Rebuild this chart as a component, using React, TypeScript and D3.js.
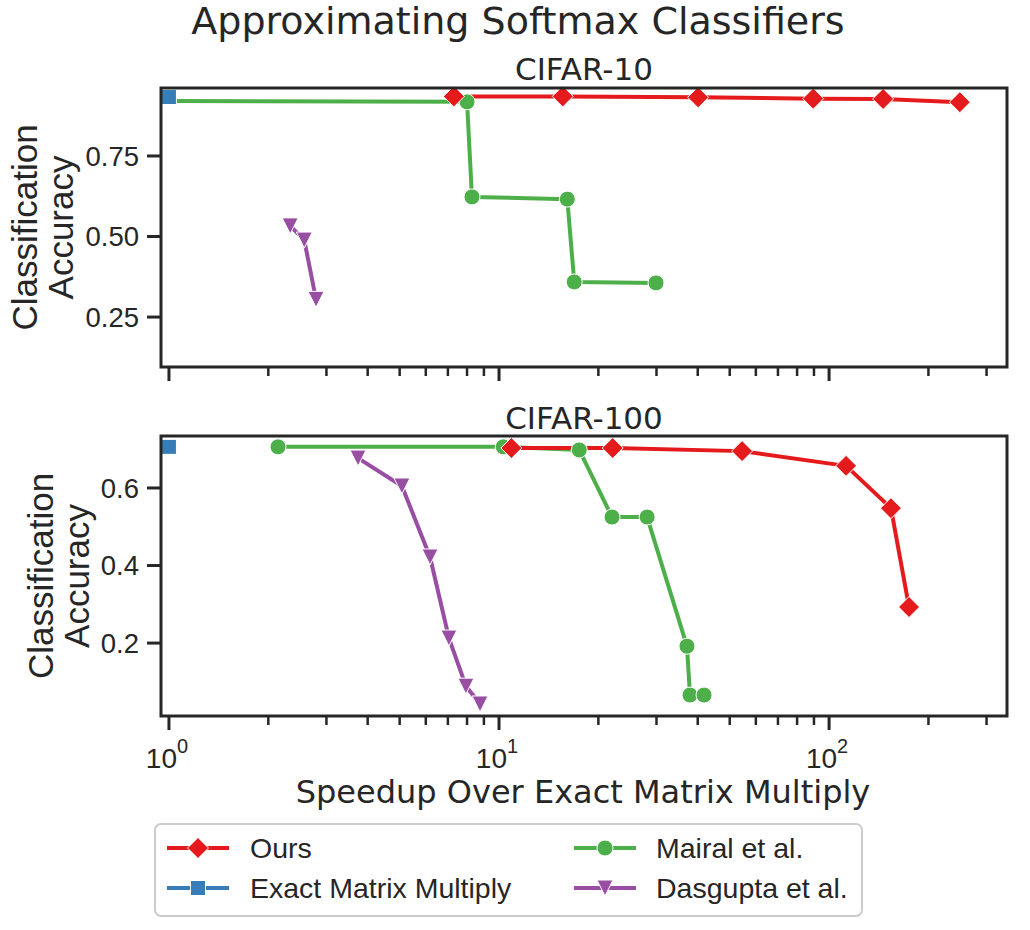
import React from "react";
import * as d3 from "d3";

// ---- data ----
const cifar10Ours_x = [7.3, 15.6, 40.1, 89.5, 145.8, 249];
const cifar10Ours_y = [0.935, 0.935, 0.932, 0.928, 0.927, 0.917];
const cifar10Exact_x = [1];
const cifar10Exact_y = [0.933];
const cifar10Mairal_x = [1, 8.0, 8.28, 16.1, 16.9, 29.9];
const cifar10Mairal_y = [0.921, 0.918, 0.623, 0.616, 0.359, 0.356];
const cifar10Dasgupta_x = [2.33, 2.57, 2.79];
const cifar10Dasgupta_y = [0.533, 0.489, 0.305];

const cifar100Ours_x = [10.9, 22.1, 54.5, 112.6, 154, 174.7];
const cifar100Ours_y = [0.703, 0.703, 0.695, 0.657, 0.548, 0.293];
const cifar100Exact_x = [1];
const cifar100Exact_y = [0.706];
const cifar100Mairal_x = [2.14, 10.3, 17.5, 22.0, 28.1, 37.1, 37.9, 41.8];
const cifar100Mairal_y = [0.706, 0.706, 0.698, 0.525, 0.525, 0.192, 0.066, 0.066];
const cifar100Dasgupta_x = [3.74, 5.08, 6.18, 7.05, 7.94, 8.76];
const cifar100Dasgupta_y = [0.677, 0.605, 0.422, 0.213, 0.089, 0.043];

const topYTicks = [0.25, 0.5, 0.75];
const topYTickLabels = ["0.25", "0.50", "0.75"];
const botYTicks = [0.2, 0.4, 0.6];
const botYTickLabels = ["0.2", "0.4", "0.6"];
const xMajorTicks = [1, 10, 100];
const xMajorExp = ["0", "1", "2"];
const xMinorTicks = [2, 3, 4, 5, 6, 7, 8, 9, 20, 30, 40, 50, 60, 70, 80, 90, 200, 300];

const seriesNames = ["Ours", "Exact Matrix Multiply", "Mairal et al.", "Dasgupta et al."];
const seriesColors = ["#e41a1c", "#377eb8", "#4daf4a", "#984ea3"];
const seriesMarkers = ["diamond", "square", "circle", "tri"];

const mainTitle = "Approximating Softmax Classifiers";
const panelTitles = ["CIFAR-10", "CIFAR-100"];
const xLabel = "Speedup Over Exact Matrix Multiply";
const yLabelLines = ["Classification", "Accuracy"];

const SANS = "'Liberation Sans', Arial, sans-serif";
const DEJA = "'DejaVu Sans', sans-serif";
const AX = "#262626";

function Marker({ kind, cx, cy, color }: { kind: string; cx: number; cy: number; color: string }) {
  const st = { fill: color, stroke: "#ffffff", strokeWidth: 1 };
  if (kind === "diamond") {
    const r = 10.5;
    return <path d={`M${cx},${cy - r}L${cx + r},${cy}L${cx},${cy + r}L${cx - r},${cy}Z`} {...st} />;
  }
  if (kind === "square") {
    const h = 7.5;
    return <rect x={cx - h} y={cy - h} width={2 * h} height={2 * h} {...st} />;
  }
  if (kind === "circle") {
    return <circle cx={cx} cy={cy} r={8} {...st} />;
  }
  const w = 8, hh = 8;
  return <path d={`M${cx - w},${cy - hh}L${cx + w},${cy - hh}L${cx},${cy + hh}Z`} {...st} />;
}

export default function App() {
  const left = 161, right = 1007;
  const x = d3.scaleLog().domain([0.946, 346]).range([left, right]);
  const panels = [
    {
      top: 88, bottom: 367, domain: [0.095, 0.961], ticks: topYTicks, labels: topYTickLabels,
      title: panelTitles[0], titleY: 80, ylabX: [37, 73],
      series: [
        [cifar10Ours_x, cifar10Ours_y],
        [cifar10Exact_x, cifar10Exact_y],
        [cifar10Mairal_x, cifar10Mairal_y],
        [cifar10Dasgupta_x, cifar10Dasgupta_y],
      ],
    },
    {
      top: 436, bottom: 716, domain: [0.012, 0.734], ticks: botYTicks, labels: botYTickLabels,
      title: panelTitles[1], titleY: 429, ylabX: [53, 89],
      series: [
        [cifar100Ours_x, cifar100Ours_y],
        [cifar100Exact_x, cifar100Exact_y],
        [cifar100Mairal_x, cifar100Mairal_y],
        [cifar100Dasgupta_x, cifar100Dasgupta_y],
      ],
    },
  ];
  const lineOrder = [2, 0, 3, 1];
  const markerOrder = [2, 0, 3, 1];

  return (
    <svg width={1030} height={930} style={{ display: "block", position: "absolute", left: 0, top: 0, background: "#fff" }}>
      <rect x={0} y={0} width={1030} height={930} fill="#fff" />
      <text x={518} y={34} textAnchor="middle" fontFamily={DEJA} fontSize={38} fill={AX}>{mainTitle}</text>
      {panels.map((p, pi) => {
        const y = d3.scaleLinear().domain(p.domain).range([p.bottom, p.top]);
        const line = d3.line<[number, number]>().x((d) => x(d[0])).y((d) => y(d[1]));
        const midY = (p.top + p.bottom) / 2;
        return (
          <g key={pi}>
            <text x={584} y={p.titleY} textAnchor="middle" fontFamily={DEJA} fontSize={31} fill={AX}>{p.title}</text>
            {lineOrder.map((si) => {
              const [xs, ys] = p.series[si];
              const pts = xs.map((v, i) => [v, ys[i]] as [number, number]);
              return <path key={"l" + si} d={line(pts) || ""} fill="none" stroke={seriesColors[si]} strokeWidth={4} strokeLinejoin="round" />;
            })}
            {markerOrder.map((si) => {
              const [xs, ys] = p.series[si];
              // a point sharing the Exact Matrix Multiply x-position is hidden under its square
              return (
                <g key={"m" + si}>
                  {xs.map((v, i) =>
                    si !== 1 && v === p.series[1][0][0] ? null : (
                      <Marker key={i} kind={seriesMarkers[si]} cx={x(v)} cy={y(ys[i])} color={seriesColors[si]} />
                    )
                  )}
                </g>
              );
            })}
            <rect x={left} y={p.top} width={right - left} height={p.bottom - p.top} fill="none" stroke={AX} strokeWidth={3} />
            {p.ticks.map((t, i) => (
              <g key={"yt" + i}>
                <line x1={left - 14} x2={left} y1={y(t)} y2={y(t)} stroke={AX} strokeWidth={3} />
                <text x={left - 22} y={y(t)} dy="0.35em" textAnchor="end" fontFamily={SANS} fontSize={27.5} fill={AX}>{p.labels[i]}</text>
              </g>
            ))}
            {xMajorTicks.map((t) => (
              <line key={"xM" + t} x1={x(t)} x2={x(t)} y1={p.bottom} y2={p.bottom + 14} stroke={AX} strokeWidth={3} />
            ))}
            {xMinorTicks.map((t) => (
              <line key={"xm" + t} x1={x(t)} x2={x(t)} y1={p.bottom} y2={p.bottom + 9} stroke={AX} strokeWidth={2.5} />
            ))}
            {yLabelLines.map((s, li) => (
              <text key={"yl" + li} transform={`translate(${p.ylabX[li]},${midY}) rotate(-90)`} textAnchor="middle" fontFamily={SANS} fontSize={35} fill={AX}>{s}</text>
            ))}
          </g>
        );
      })}
      {xMajorTicks.map((t, i) => (
        <text key={"xl" + t} x={x(t) - 2} y={768} textAnchor="middle" fontFamily={SANS} fontSize={28} fill={AX}>
          10<tspan dy={-15} fontSize={20}>{xMajorExp[i]}</tspan>
        </text>
      ))}
      <text x={583} y={803} textAnchor="middle" fontFamily={DEJA} fontSize={32} fill={AX}>{xLabel}</text>
      <rect x={155} y={824} width={707} height={92} rx={6} fill="#fff" fillOpacity={0.8} stroke="#cccccc" strokeWidth={2} />
      {seriesNames.map((n, i) => {
        const col = i === 0 || i === 1 ? 0 : 1;
        const row = i === 0 || i === 2 ? 0 : 1;
        const hx = col === 0 ? 167 : 574;
        const tx = col === 0 ? 250 : 656;
        const yy = row === 0 ? 848 : 888;
        return (
          <g key={"lg" + i}>
            <line x1={hx} x2={hx + 62} y1={yy} y2={yy} stroke={seriesColors[i]} strokeWidth={4} />
            <Marker kind={seriesMarkers[i]} cx={hx + 31} cy={yy} color={seriesColors[i]} />
            <text x={tx} y={yy} dy="0.35em" fontFamily={SANS} fontSize={28.5} fill={AX}>{n}</text>
          </g>
        );
      })}
    </svg>
  );
}
